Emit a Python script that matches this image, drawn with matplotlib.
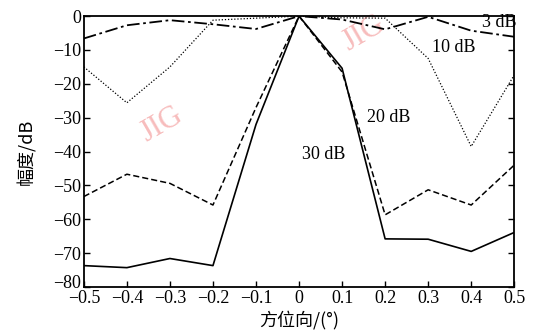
import numpy as np
import matplotlib.pyplot as plt
import matplotlib.transforms as mtransforms

# azimuth positions and response curves (dB)
azimuth = [-0.5, -0.4, -0.3, -0.2, -0.1, 0.0, 0.1, 0.2, 0.3, 0.4, 0.5]
db3 = [-6.6, -2.7, -1.2, -2.4, -3.8, 0.0, -1.0, -3.9, -0.2, -4.3, -6.1]
db10 = [-15.0, -25.6, -15.0, -1.2, -0.6, 0.0, -0.5, -0.6, -12.5, -38.5, -17.4]
db20 = [-53.3, -46.7, -49.4, -55.8, -27.0, 0.0, -16.5, -58.7, -51.3, -55.8, -44.0]
db30 = [-73.7, -74.3, -71.6, -73.7, -32.0, 0.0, -15.4, -65.8, -65.9, -69.5, -63.9]

xticks = [-0.5, -0.4, -0.3, -0.2, -0.1, 0, 0.1, 0.2, 0.3, 0.4, 0.5]
xticklabels = ['\u22120.5', '\u22120.4', '\u22120.3', '\u22120.2', '\u22120.1', '0',
               '0.1', '0.2', '0.3', '0.4', '0.5']
yticks = [0, -10, -20, -30, -40, -50, -60, -70, -80]
yticklabels = ['0', '\u221210', '\u221220', '\u221230', '\u221240', '\u221250',
               '\u221260', '\u221270', '\u221280']

serif = ['Liberation Serif', 'DejaVu Serif']
cjk = ['Noto Sans CJK SC', 'DejaVu Sans']

fig = plt.figure(figsize=(5.34, 3.36), dpi=100)
ax = fig.add_axes([0.157, 0.146, 0.806, 0.806])

ax.plot(azimuth, db3, color='black', lw=1.3, linestyle=(0, (7, 2, 1.5, 2)))
ax.plot(azimuth, db10, color='black', lw=0.9, linestyle=(0, (1, 1.5)))
ax.plot(azimuth, db20, color='black', lw=1.1, linestyle=(0, (4, 2)))
ax.plot(azimuth, db30, color='black', lw=1.2, linestyle='-')

ax.set_xlim(-0.5, 0.5)
ax.set_ylim(-80, 0)
ax.set_xticks(xticks)
ax.set_xticklabels(xticklabels, fontfamily=serif, fontsize=13)
ax.set_yticks(yticks)
ax.set_yticklabels(yticklabels, fontfamily=serif, fontsize=13)
ax.tick_params(direction='in', right=True, length=4, width=1, pad=2)
for s in ax.spines.values():
    s.set_linewidth(1.3)

# nudge the bottom y label up so it clears -0.5, as in the original
lab = ax.get_yticklabels()[-1]
lab.set_transform(lab.get_transform() + mtransforms.ScaledTranslation(0, 0.05, fig.dpi_scale_trans))

ax.set_xlabel('方位向/(°)', fontfamily=cjk, fontsize=13, labelpad=3)
ax.set_ylabel('幅度/dB', fontfamily=cjk, fontsize=13, labelpad=12)

# curve annotations
ax.text(0.425, -1.8, '3 dB', fontfamily=serif, fontsize=13, va='center')
ax.text(0.31, -9.4, '10 dB', fontfamily=serif, fontsize=13, va='center')
ax.text(0.158, -30, '20 dB', fontfamily=serif, fontsize=13, va='center')
ax.text(0.006, -41, '30 dB', fontfamily=serif, fontsize=13, va='center')

# faint watermarks
ax.text(-0.38, -37, 'JIG', fontfamily=serif, fontsize=22, color='#f4a0a0',
        rotation=30, alpha=0.7, zorder=0)
ax.text(0.09, -10, 'JIG', fontfamily=serif, fontsize=22, color='#f4a0a0',
        rotation=30, alpha=0.7, zorder=0)

fig.savefig('out.png', dpi=100)
